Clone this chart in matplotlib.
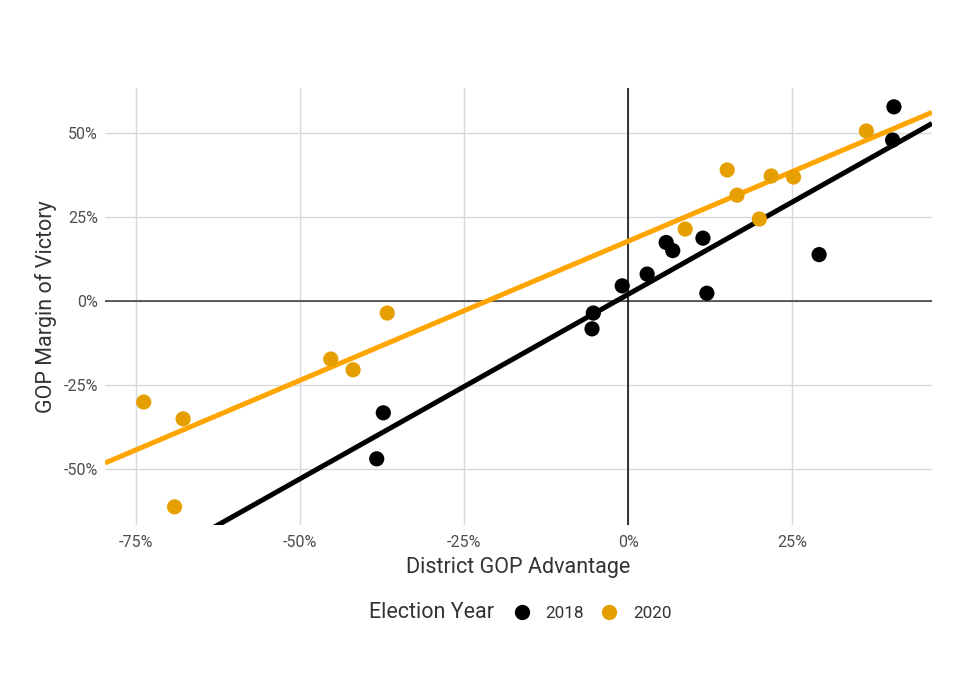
import matplotlib.pyplot as plt
import numpy as np
from matplotlib.lines import Line2D
from matplotlib.ticker import FuncFormatter

plt.rcParams['font.family'] = ['Roboto', 'DejaVu Sans']

# district GOP advantage (%) and GOP margin of victory (%)
adv18 = [-38.3, -37.3, -5.5, -5.3, -0.9, 2.9, 5.8, 6.8, 11.4, 12.0, 29.1, 40.5, 40.3]
mar18 = [-47.0, -33.3, -8.3, -3.6, 4.5, 8.0, 17.4, 15.0, 18.7, 2.3, 13.8, 57.8, 47.9]
adv20 = [-73.8, -67.8, -69.1, -45.3, -41.9, -36.7, 8.7, 15.1, 16.6, 20.0, 21.8, 25.2, 36.3]
mar20 = [-30.1, -35.1, -61.3, -17.3, -20.5, -3.6, 21.4, 39.0, 31.5, 24.4, 37.2, 36.9, 50.6]
years = ['2018', '2020']

xlo = -79.7; xhi = 46.3
ylo = -66.7; yhi = 63.4

fig = plt.figure(figsize=(9.76, 6.8), dpi=100)
ax = fig.add_axes([105/976, 1 - 525/680, (932-105)/976, (525-88)/680])

ax.axhline(0, color='#333333', lw=1.1, zorder=1)
ax.axvline(0, color='black', lw=1.1, zorder=1)

def plotyear(x, y, pclr, lclr):
    x = np.array(x); y = np.array(y)
    b, a = np.polyfit(x, y, 1)
    xs = np.array([xlo, xhi])
    ax.plot(xs, a + b*xs, c=lclr, lw=3.6, zorder=2, solid_capstyle='butt')
    ax.scatter(x, y, s=120, c=pclr, edgecolors='none', zorder=3)

plotyear(adv18, mar18, 'black', 'black')
plotyear(adv20, mar20, '#E69F00', '#FFA500')

ax.set_xlim(xlo, xhi)
ax.set_ylim(ylo, yhi)
ax.set_xticks([-75, -50, -25, 0, 25])
ax.set_yticks([-50, -25, 0, 25, 50])
pct = FuncFormatter(lambda v, p: '%d%%' % v)
ax.xaxis.set_major_formatter(pct)
ax.yaxis.set_major_formatter(pct)
ax.grid(color='#D9D9D9', lw=1.0, zorder=0)
ax.set_axisbelow(True)
for s in ax.spines.values():
    s.set_visible(False)
ax.tick_params(length=0, labelsize=11.5, labelcolor='#4D4D4D', pad=5)
ax.tick_params(axis='x', pad=7)

ax.set_xlabel('District GOP Advantage', fontsize=15.5, color='#333333', labelpad=5)
ax.set_ylabel('GOP Margin of Victory', fontsize=15.5, color='#333333', labelpad=5)

handles = [Line2D([], [], marker='o', ls='none', ms=11, mec='none', mfc=c)
           for c in ['black', '#E69F00']]
fig.text(369/976, 1 - 612/680, 'Election Year', fontsize=15.5, color='#333333',
         va='center', ha='left')
fig.legend(handles, years, loc='center left', bbox_to_anchor=(496/976, 1 - 613/680),
           ncol=2, frameon=False, fontsize=12.3, labelcolor='#333333',
           handletextpad=0.4, columnspacing=0.45, borderpad=0)

plt.savefig('out.png', dpi=100)
